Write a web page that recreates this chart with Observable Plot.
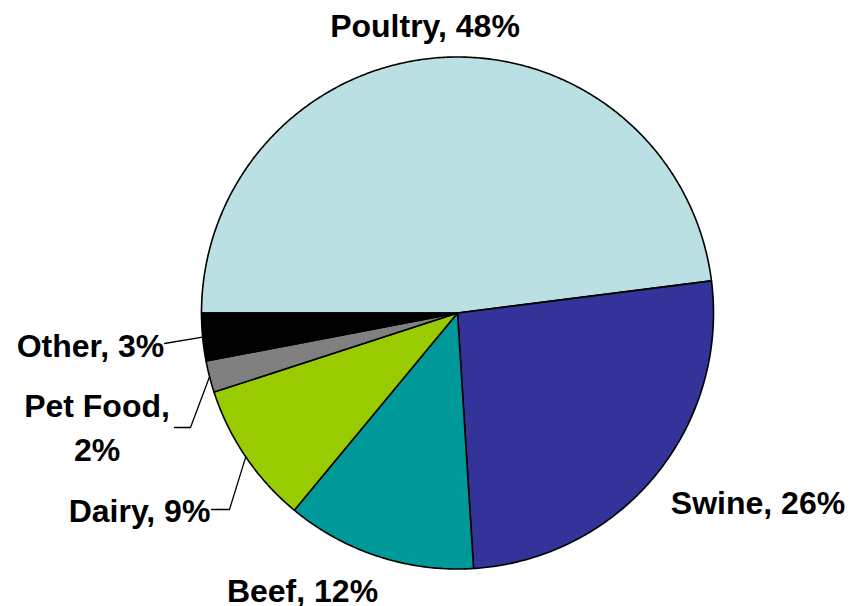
<!DOCTYPE html>
<html>
<head>
<meta charset="utf-8">
<script src="https://cdn.jsdelivr.net/npm/d3@7"></script>
<script src="https://cdn.jsdelivr.net/npm/@observablehq/plot@0.6"></script>
<style>
  html, body { margin: 0; padding: 0; background: #fff; }
  #chart svg { display: block; }
</style>
</head>
<body>
<div id="chart"></div>
<script>
// ---- data ----
const categories = ["Poultry", "Swine", "Beef", "Dairy", "Pet Food", "Other"];
const shares = [48, 26, 12, 9, 2, 3];
const labelTexts = ["Poultry, 48%", "Swine, 26%", "Beef, 12%", "Dairy, 9%", "Pet Food,\n2%", "Other, 3%"];
const colors = ["#BBE0E3", "#333399", "#009999", "#99CC00", "#808080", "#000000"];

// ---- layout ----
const W = 867, H = 606;
const cx = 457, cy = 312.5, R = 256;
// label centres (text middle) for each slice
const labelPos = {
  "Poultry": [424.5, 22],
  "Swine": [757.5, 499],
  "Beef": [302, 587],
  "Dairy": [139, 507],
  "Pet Food": [96.5, 424],
  "Other": [90, 342]
};
// leader line starting points (near label) for slices with leaders
const leaderStart = {
  "Other": [[164, 343]],
  "Pet Food": [[174, 427], [190, 427]],
  "Dairy": [[211, 509], [229, 509]]
};

const pt = (a, r) => [cx + r * Math.sin(a), cy - r * Math.cos(a)];

const arcs = d3.pie().sort(null).value(d => d.share)
  .startAngle(-Math.PI / 2).endAngle(3 * Math.PI / 2)(
    categories.map((c, i) => ({category: c, share: shares[i], label: labelTexts[i]}))
  );

const features = arcs.map(a => {
  const n = Math.max(2, Math.ceil((a.endAngle - a.startAngle) / (Math.PI / 360)));
  const ring = [[cx, cy]];
  for (let k = 0; k <= n; k++) ring.push(pt(a.startAngle + (a.endAngle - a.startAngle) * k / n, R));
  ring.push([cx, cy]);
  return {type: "Feature", properties: {category: a.data.category}, geometry: {type: "Polygon", coordinates: [ring]}};
});

const leaders = arcs.filter(a => leaderStart[a.data.category]).map(a => {
  const mid = (a.startAngle + a.endAngle) / 2;
  return {type: "Feature", properties: {}, geometry: {type: "LineString",
    coordinates: [...leaderStart[a.data.category], pt(mid, R)]}};
});

const labels = arcs.map(a => ({
  text: a.data.label,
  x: labelPos[a.data.category][0],
  y: labelPos[a.data.category][1]
}));

const chart = Plot.plot({
  width: W,
  height: H,
  margin: 0,
  projection: d3.geoIdentity(),
  color: {domain: categories, range: colors},
  marks: [
    Plot.geo(features, {fill: d => d.properties.category, stroke: "#000", strokeWidth: 1.6}),
    Plot.geo(leaders, {stroke: "#000", strokeWidth: 1.3, fill: "none"}),
    Plot.text(labels, {
      x: "x", y: "y", text: "text",
      fontSize: 32, fontWeight: "bold",
      fontFamily: "'Liberation Sans', Arial, sans-serif",
      fill: "#000", lineHeight: 1.375, textAnchor: "middle", frameAnchor: "middle"
    })
  ]
});
document.getElementById("chart").appendChild(chart);
</script>
</body>
</html>
